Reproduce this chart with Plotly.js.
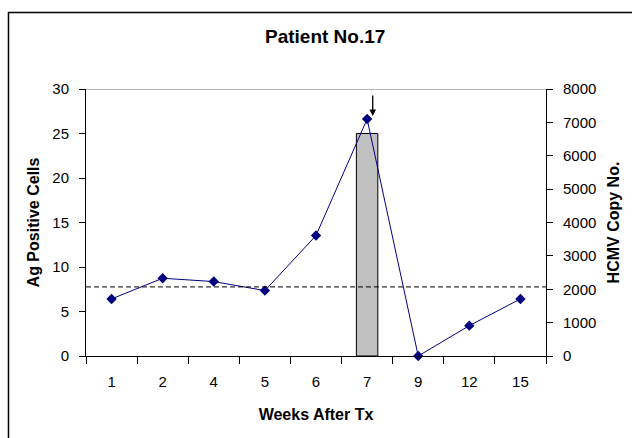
<!DOCTYPE html>
<html>
<head>
<meta charset="utf-8">
<script src="https://cdn.plot.ly/plotly-3.0.1.min.js"></script>
<style>html,body{margin:0;padding:0;background:#fff;}#chart{width:632px;height:438px;}</style>
</head>
<body>
<div id="chart"></div>
<script>
// Data
const weeks = ['1', '2', '4', '5', '6', '7', '9', '12', '15'];
const agPositiveCells = [null, null, null, null, null, 25, null, null, null];
const hcmvCopyNo = [1710, 2330, 2230, 1960, 3610, 7100, 0, 910, 1710];
const thresholdCopyNo = 2070;
const arrowCopyNo = 7190;

const FONT = 'Liberation Sans, Arial, sans-serif';

const traces = [
  {
    type: 'bar',
    x: weeks,
    y: agPositiveCells,
    yaxis: 'y',
    width: 0.42,
    marker: {color: '#c0c0c0', line: {color: '#000000', width: 1}},
    hoverinfo: 'skip',
    showlegend: false
  },
  {
    type: 'scatter',
    mode: 'lines+markers',
    x: weeks,
    y: hcmvCopyNo,
    yaxis: 'y2',
    line: {color: '#000080', width: 1},
    marker: {color: '#000080', symbol: 'diamond', size: 8},
    cliponaxis: false,
    showlegend: false
  }
];

const layout = {
  width: 632,
  height: 438,
  margin: {l: 86, r: 86, t: 89, b: 82, pad: 0},
  paper_bgcolor: '#ffffff',
  plot_bgcolor: '#ffffff',
  showlegend: false,
  bargap: 0,
  title: {
    text: '<b>Patient No.17</b>',
    font: {family: FONT, size: 19, color: '#000000'},
    x: 0.52, xref: 'paper', xanchor: 'center',
    y: 0.918, yref: 'container', yanchor: 'middle'
  },
  xaxis: {
    type: 'category',
    range: [-0.5, 8.5],
    tickson: 'boundaries',
    ticks: 'outside',
    ticklen: 7,
    tickcolor: '#000000',
    tickwidth: 1,
    showline: true,
    linecolor: '#000000',
    linewidth: 1,
    showgrid: false,
    zeroline: false,
    tickfont: {family: FONT, size: 15, color: '#000000'},
    ticklabelstandoff: 12,
    title: {text: '<b>Weeks After Tx</b>', font: {family: FONT, size: 16, color: '#000000'}, standoff: 19},
    automargin: false,
    fixedrange: true
  },
  yaxis: {
    range: [0, 30],
    tickvals: [0, 5, 10, 15, 20, 25, 30],
    ticks: 'outside',
    ticklen: 6,
    tickcolor: '#000000',
    showline: true,
    linecolor: '#000000',
    linewidth: 1,
    showgrid: false,
    zeroline: false,
    tickfont: {family: FONT, size: 15, color: '#000000'},
    ticklabelstandoff: 7,
    title: {text: '<b>Ag Positive Cells</b>', font: {family: FONT, size: 16, color: '#000000'}, standoff: 8},
    automargin: false,
    fixedrange: true
  },
  yaxis2: {
    range: [0, 8000],
    tickvals: [0, 1000, 2000, 3000, 4000, 5000, 6000, 7000, 8000],
    overlaying: 'y',
    side: 'right',
    ticks: 'outside',
    ticklen: 6,
    tickcolor: '#000000',
    showline: true,
    linecolor: '#000000',
    linewidth: 1,
    showgrid: false,
    zeroline: false,
    tickfont: {family: FONT, size: 15, color: '#000000'},
    ticklabelstandoff: 7,
    title: {text: '<b>HCMV Copy No.</b>', font: {family: FONT, size: 16, color: '#000000'}, standoff: 12},
    automargin: false,
    fixedrange: true
  },
  shapes: [
    // top gray gridline at the axis maximum
    {type: 'line', xref: 'paper', yref: 'y', x0: 0, x1: 1, y0: 30, y1: 30,
     line: {color: '#9a9a9a', width: 1.5}},
    // dashed reference line
    {type: 'line', xref: 'paper', yref: 'y2', x0: 0, x1: 1, y0: thresholdCopyNo, y1: thresholdCopyNo,
     line: {color: '#000000', width: 1, dash: '5px,3px'}},
    // outer chart border (extends past the right and bottom edges)
    {type: 'rect', xref: 'paper', yref: 'paper', x0: -0.1685, x1: 1.3, y0: -0.5, y1: 1.2865,
     line: {color: '#000000', width: 1.5}, fillcolor: 'rgba(0,0,0,0)', layer: 'below'}
  ],
  annotations: [
    {x: 5.11, y: arrowCopyNo, xref: 'x', yref: 'y2', text: '', showarrow: true,
     arrowhead: 2, arrowsize: 1, arrowwidth: 1.3, arrowcolor: '#000000', ax: 0, ay: -22}
  ]
};

Plotly.newPlot('chart', traces, layout, {displayModeBar: false, staticPlot: true});
</script>
</body>
</html>
